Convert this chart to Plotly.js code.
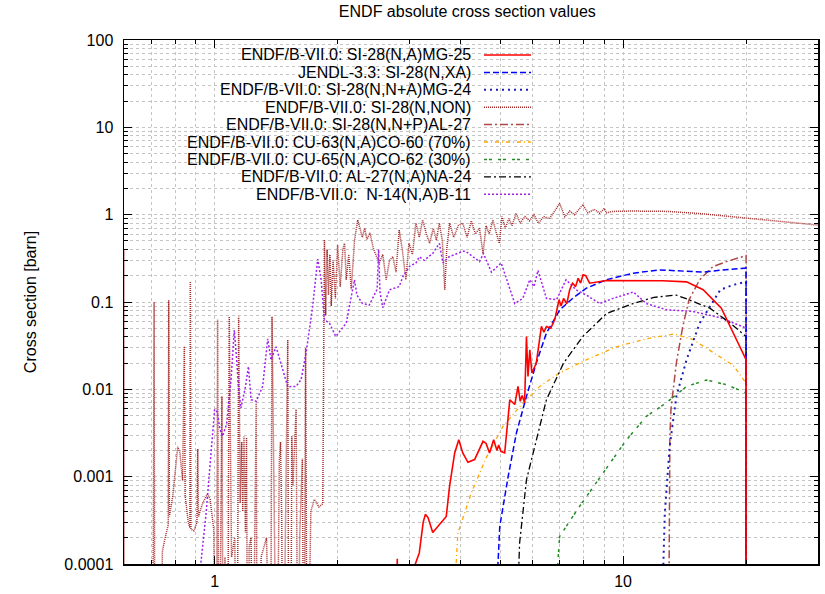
<!DOCTYPE html>
<html><head><meta charset="utf-8">
<script src="https://cdn.plot.ly/plotly-3.0.1.min.js"></script>
<style>html,body{margin:0;padding:0;background:#fff}#chart{width:825px;height:594px}</style>
</head><body><div id="chart"></div>
<script>
// ---------- data (energy in MeV, cross section in barn) ----------
const seriesNames = [
  'ENDF/B-VII.0: SI-28(N,A)MG-25',
  'JENDL-3.3: SI-28(N,XA)',
  'ENDF/B-VII.0: SI-28(N,N+A)MG-24',
  'ENDF/B-VII.0: SI-28(N,NON)',
  'ENDF/B-VII.0: SI-28(N,N+P)AL-27',
  'ENDF/B-VII.0: CU-63(N,A)CO-60 (70%)',
  'ENDF/B-VII.0: CU-65(N,A)CO-62 (30%)',
  'ENDF/B-VII.0: AL-27(N,A)NA-24',
  'ENDF/B-VII.0:\u00a0 N-14(N,A)B-11'
];

const si28naE = [2.78,2.80,2.82,3.05,3.10,3.17,3.24,3.28,3.33,3.42,3.69,3.76,3.87,3.96,4.05,4.17,4.33,4.54,4.62,4.71,4.82,4.91,4.96,5.02,5.13,5.28,5.43,5.53,5.60,5.66,5.74,5.80,5.85,5.91,5.98,6.13,6.31,6.40,6.49,6.65,6.80,6.97,7.05,7.15,7.28,7.40,7.52,7.65,7.76,7.87,7.98,8.10,8.28,9.10,10.5,12.5,14.3,15.7,17.4,20.0,20.0];
const si28naS = [1e-6,1.15e-4,1e-6,1e-6,1e-4,1.34e-4,3.0e-4,3.7e-4,3.4e-4,2.3e-4,3.5e-4,7.8e-4,1.87e-3,2.65e-3,1.87e-3,1.46e-3,1.57e-3,2.54e-3,2.4e-3,1.87e-3,2.65e-3,2.0e-3,2.3e-3,1.95e-3,1.87e-3,7.6e-3,6.7e-3,0.0108,7.3e-3,8.5e-3,7.0e-3,0.0403,0.014,0.0284,0.0154,0.020,0.0525,0.045,0.0525,0.050,0.0625,0.106,0.090,0.11,0.095,0.138,0.164,0.15,0.187,0.165,0.205,0.20,0.164,0.176,0.177,0.175,0.17,0.138,0.085,0.0218,1e-6];

const si28nxaE = [4.71,4.99,5.23,5.48,5.80,6.13,6.49,7.0,7.54,8.13,9.10,10.6,12.3,13.5,15.7,17.5,20.0,20.0];
const si28nxaS = [1e-6,2.7e-4,1.0e-3,3.16e-3,8.3e-3,0.020,0.044,0.0815,0.111,0.144,0.18,0.214,0.233,0.228,0.22,0.232,0.244,1e-6];

const si28nnaE = [12.2,12.65,13.0,13.5,14.3,15.4,17.3,18.6,20.0,20.0];
const si28nnaS = [1e-6,3.8e-4,2.2e-3,8.3e-3,0.0218,0.0573,0.138,0.157,0.17,1e-6];

const si28nonE = [0.600,0.6005,0.700,0.708,0.711,0.714,0.735,0.745,0.760,0.770,0.772,0.775,0.790,0.805,0.812,0.822,0.835,0.843,0.847,0.862,0.870,0.872,0.875,0.890,0.905,0.909,0.913,0.935,0.960,0.975,0.995,1.010,1.017,1.024,1.035,1.042,1.050,1.060,1.075,1.086,1.100,1.120,1.135,1.145,1.155,1.165,1.172,1.180,1.190,1.197,1.205,1.215,1.228,1.240,1.255,1.264,1.272,1.300,1.340,1.370,1.382,1.395,1.420,1.440,1.450,1.460,1.470,1.500,1.510,1.520,1.535,1.545,1.555,1.583,1.600,1.615,1.640,1.655,1.670,1.685,1.720,1.755,1.800,1.840,1.857,1.870,1.885,1.900,1.915,1.930,1.950,1.975,2.000,2.030,2.060,2.080,2.100,2.130,2.160,2.180,2.200,2.240,2.270,2.300,2.330,2.360,2.400,2.450,2.530,2.580,2.630,2.680,2.730,2.780,2.830,2.880,2.940,2.990,3.050,3.110,3.170,3.230,3.300,3.360,3.430,3.490,3.550,3.610,3.660,3.700,3.760,3.850,3.950,4.050,4.150,4.250,4.350,4.450,4.540,4.620,4.700,4.800,4.900,4.980,5.050,5.150,5.250,5.350,5.470,5.600,5.750,5.900,6.050,6.200,6.400,6.600,6.800,6.990,7.200,7.400,7.600,7.800,7.970,8.200,8.500,8.760,9.000,9.100,9.450,10.5,12.8,15.4,20.0,25.0,30.0];
const si28nonS = [0.40,1e-6,1e-6,2e-4,0.10,1e-6,1e-6,1.4e-4,2.2e-4,2.8e-4,0.105,3.5e-4,6e-4,1.6e-3,2.2e-3,1.9e-3,9e-4,0.031,6e-4,3e-4,2.6e-4,0.172,2.5e-4,2.4e-4,3e-4,2.07e-3,3.5e-4,5e-4,6.3e-4,5.5e-4,2.5e-4,1e-6,0.0625,1e-6,2e-4,8.3e-3,1e-6,1.2e-4,1e-6,0.068,1.2e-4,2e-4,1e-6,0.068,5e-4,2.5e-3,4e-4,2.9e-3,2.3e-4,2.8e-3,1e-6,1.6e-4,2e-4,1e-6,3e-4,7e-3,1e-6,1.2e-4,2e-4,1e-6,0.068,1e-6,1e-6,1.5e-3,2.5e-3,3e-4,1e-6,2.9e-3,0.037,1e-6,1e-6,2.9e-3,8e-4,5.9e-3,1e-6,2e-4,1.6e-3,1e-6,0.0296,1e-6,4e-4,5.5e-4,4.5e-4,4.9e-4,0.515,0.07,0.40,0.12,0.35,0.09,0.30,0.11,0.45,0.15,0.40,0.47,0.18,0.35,0.14,0.26,0.50,0.87,0.67,0.55,0.70,0.52,0.62,0.40,0.28,0.35,0.18,0.30,0.33,0.22,0.67,0.40,0.18,0.47,0.35,0.80,0.55,0.87,0.60,0.47,0.70,0.51,0.80,0.50,0.138,0.40,0.80,0.55,0.75,0.80,0.55,0.85,0.60,0.70,0.36,0.75,0.60,0.87,0.60,0.47,0.95,0.70,0.90,0.75,1.04,0.80,0.95,0.85,1.00,0.80,0.95,0.90,1.10,1.35,0.95,1.10,1.00,1.15,1.30,1.05,1.15,1.04,1.18,1.05,1.09,1.10,1.09,1.03,0.91,0.82,0.76];

const si28npE = [12.95,13.02,13.1,13.5,14.0,14.5,15.4,16.6,17.9,20.0,20.0];
const si28npS = [5e-5,3e-3,6e-3,0.020,0.0525,0.106,0.18,0.255,0.29,0.34,1e-6];

const cu63E = [3.69,3.94,4.25,4.62,5.08,5.58,6.25,6.99,8.13,9.63,11.4,13.3,14.8,16.6,18.6,20.0,20.0];
const cu63S = [1e-6,2.26e-4,6.5e-4,1.64e-3,3.77e-3,6.3e-3,0.0108,0.0154,0.0218,0.0307,0.0379,0.043,0.0374,0.0264,0.0188,0.0118,1e-6];

const cu65E = [6.49,6.99,7.83,8.93,10.2,11.4,12.75,14.3,16.0,17.9,20.0,20.0];
const cu65S = [1e-6,2.07e-4,4.6e-4,1.1e-3,2.65e-3,4.9e-3,7e-3,0.0108,0.0128,0.0113,9.1e-3,1e-6];

const al27E = [5.37,5.58,5.80,6.13,6.49,7.15,7.97,9.10,10.6,11.9,13.5,14.5,16.3,18.3,20.0,20.0];
const al27S = [1e-6,1.74e-4,9.2e-4,2.65e-3,7.6e-3,0.020,0.0403,0.0736,0.0964,0.113,0.12,0.106,0.085,0.0573,0.0403,1e-6];

const n14E = [0.915,0.925,0.953,0.975,1.000,1.015,1.030,1.046,1.070,1.097,1.117,1.130,1.145,1.160,1.190,1.210,1.228,1.264,1.311,1.349,1.374,1.414,1.455,1.510,1.583,1.628,1.675,1.738,1.788,1.823,1.857,1.910,1.980,2.100,2.200,2.230,2.300,2.390,2.500,2.520,2.540,2.580,2.680,2.830,2.890,3.000,3.110,3.170,3.260,3.420,3.550,3.620,3.750,4.050,4.120,4.280,4.450,4.550,4.760,5.030,5.180,5.430,5.680,5.910,6.050,6.190,6.490,6.870,7.250,7.670,8.130,8.760,9.450,10.6,11.4,12.75,14.8,17.3,20.0,20.0];
const n14S = [1e-6,1e-4,3.8e-4,1.5e-3,5.9e-3,5.5e-3,3.5e-3,2.9e-3,4e-3,0.0129,0.0478,0.025,0.010,6.1e-3,0.0108,0.0183,7.6e-3,7.3e-3,0.0108,0.0379,0.0218,0.0307,0.0188,0.0107,0.0108,0.0129,0.0264,0.0894,0.31,0.18,0.0625,0.0573,0.0403,0.0573,0.18,0.12,0.0964,0.092,0.14,0.40,0.13,0.086,0.138,0.15,0.196,0.256,0.28,0.33,0.30,0.36,0.47,0.28,0.33,0.38,0.38,0.33,0.29,0.36,0.22,0.28,0.187,0.096,0.11,0.18,0.15,0.23,0.11,0.106,0.18,0.138,0.12,0.096,0.11,0.13,0.096,0.0815,0.078,0.066,0.0503,1e-6];

const xTickVals = [1, 10];
const xTickText = ['1', '10'];
const yTickVals = [1e-4, 1e-3, 1e-2, 1e-1, 1, 10, 100];
const yTickText = ['0.0001', '0.001', '0.01', '0.1', '1', '10', '100'];

// ---------- styles ----------
const FONT = 'Liberation Sans, Arial, Helvetica, sans-serif';
const GRID = '#c4c4c4';
const lineStyles = [
  {color:'#ff0000', dash:'solid', width:1.6},
  {color:'#0000ff', dash:'6px,3px', width:1.5},
  {color:'#1c1cb4', dash:'2px,4px', width:2},
  {color:'#a52a2a', dash:'1px,1px', width:1.5},
  {color:'#b04848', dash:'8px,3px,2px,3px', width:1.5},
  {color:'#ffa500', dash:'4px,3px,1px,3px', width:1.3},
  {color:'#228b22', dash:'3px,2px,3px,6px', width:1.5},
  {color:'#000000', dash:'7px,3px,2px,3px', width:1.3},
  {color:'#a020f0', dash:'2px,2px', width:1.5}
];
const xs = [si28naE, si28nxaE, si28nnaE, si28nonE, si28npE, cu63E, cu65E, al27E, n14E];
const ys = [si28naS, si28nxaS, si28nnaS, si28nonS, si28npS, cu63S, cu65S, al27S, n14S];
const drawOrder = [3, 8, 4, 5, 6, 7, 2, 1, 0];

const traces = drawOrder.map(i => ({
  type: 'scatter', mode: 'lines', x: xs[i], y: ys[i], name: seriesNames[i],
  line: {color: lineStyles[i].color, dash: lineStyles[i].dash, width: lineStyles[i].width},
  showlegend: false, hoverinfo: 'skip'
}));

// minor tick positions
const xMinor = [0.6,0.7,0.8,0.9,2,3,4,5,6,7,8,9,20,30];
const yMinor = [];
for (let d = -4; d < 2; d++) for (let k = 2; k <= 9; k++) yMinor.push(k * Math.pow(10, d));

// legend (text right-aligned, sample lines to the right)
const M = {l:124, r:7, t:40, b:30};
const PW = 825 - M.l - M.r, PH = 594 - M.t - M.b;
const px2x = p => (p - M.l) / PW;
const py2y = p => (594 - M.b - p) / PH;
const annotations = [], shapes = [];
seriesNames.forEach((n, i) => {
  const cy = 55 + i * 17.4;
  annotations.push({xref:'paper', yref:'paper', x:px2x(473), y:py2y(cy), xanchor:'right', yanchor:'middle',
    text:n, showarrow:false, align:'right', font:{family:FONT, size:16, color:'#000'}});
  shapes.push({type:'line', xref:'paper', yref:'paper', x0:px2x(484), x1:px2x(531), y0:py2y(cy), y1:py2y(cy),
    line:{color:lineStyles[i].color, dash:lineStyles[i].dash, width:lineStyles[i].width}});
});

const axisCommon = {
  type:'log', ticks:'inside', ticklen:8, tickwidth:1, tickcolor:'#000',
  showline:true, linecolor:'#000', linewidth:1.5, mirror:'ticks',
  showgrid:true, gridcolor:GRID, griddash:'dot', gridwidth:1, zeroline:false,
  tickfont:{family:FONT, size:16, color:'#000'}, automargin:false, tickmode:'array'
};

const layout = {
  width:825, height:594, margin:M,
  paper_bgcolor:'#ffffff', plot_bgcolor:'#ffffff',
  font:{family:FONT, color:'#000'},
  title:{text:'ENDF absolute cross section values', x:0.5665, xanchor:'center', y:0.98, yanchor:'middle', font:{family:FONT, size:16, color:'#000'}},
  xaxis:Object.assign({}, axisCommon, {
    range:[Math.log10(0.6), Math.log10(30)], tickvals:xTickVals, ticktext:xTickText, ticklabelstandoff:2,
    minor:{tickmode:'array', tickvals:xMinor, ticks:'inside', ticklen:4, tickcolor:'#000', showgrid:true, gridcolor:GRID, griddash:'dot', gridwidth:1}
  }),
  yaxis:Object.assign({}, axisCommon, {
    range:[-4, 2], tickvals:yTickVals, ticktext:yTickText, ticklabelstandoff:6,
    title:{text:'Cross section [barn]', font:{family:FONT, size:16, color:'#000'}, standoff:24},
    minor:{tickmode:'array', tickvals:yMinor, ticks:'inside', ticklen:4, tickcolor:'#000', showgrid:true, gridcolor:GRID, griddash:'dot', gridwidth:1}
  }),
  annotations:annotations, shapes:shapes
};

Plotly.newPlot('chart', traces, layout, {displayModeBar:false, staticPlot:true});
</script>
</body></html>
